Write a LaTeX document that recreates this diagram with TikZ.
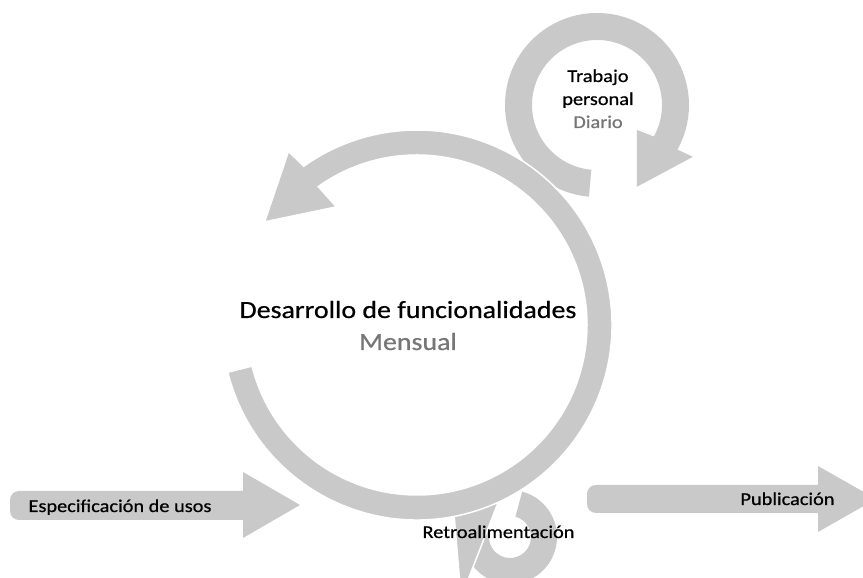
\documentclass[tikz,border=0pt]{standalone}
\usepackage{fontspec}
\setmainfont{Carlito}[FakeStretch=1.13,FakeBold=0.6]
\usetikzlibrary{calc}
\definecolor{shapegray}{RGB}{201,201,201}
\definecolor{subgray}{RGB}{118,118,118}
\begin{document}
\begin{tikzpicture}[x=1pt,y=1pt,
  grayfill/.style={fill=shapegray},
  whiteedge/.style={draw=white, line width=1.5pt},
  bigtext/.style={font=\fontsize{24.7}{28}\selectfont, inner sep=0pt, anchor=base},
  smalltext/.style={font=\fontsize{18}{23}\selectfont, inner sep=0pt, anchor=base},
  subtext/.style={text=subgray}]
\useasboundingbox (0,0) rectangle (863,578);
\coordinate (C) at (417,253);
\coordinate (T) at (597,473);
\coordinate (B) at (510,41);
% top small loop (daily)
\fill[grayfill] ($(T)+(265:92)$) arc[start angle=265,end angle=-29,radius=92]
  -- ($(T)+(-28.4:109)$) -- ($(T)+(-64:91)$) -- ($(T)+(-32:47)$)
  -- ($(T)+(-29:65)$) arc[start angle=-29,end angle=265,radius=65] -- cycle;
% bottom small loop (feedback)
\fill[grayfill] ($(B)+(75:47)$) arc[start angle=75,end angle=-195,radius=47]
  -- ($(B)+(165:21)$) arc[start angle=-195,end angle=75,radius=21] -- cycle;
\fill[grayfill, whiteedge] (452,88) -- (503,88) -- (461,-20) -- cycle;
% big cycle (monthly)
\fill[grayfill, whiteedge] ($(C)+(-166:195)$) arc[start angle=-166,end angle=125.5,radius=195]
  -- ($(C)+(126.5:216)$) -- ($(C)+(145.9:184)$) -- ($(C)+(124.3:143)$)
  -- ($(C)+(125.5:170)$) arc[start angle=125.5,end angle=-166,radius=170] -- cycle;
% input arrow
\fill[grayfill, rounded corners=9pt] (10,58) rectangle (262,87);
\fill[grayfill] (243,106) -- (300,73) -- (243,40) -- cycle;
% output arrow
\fill[grayfill, rounded corners=9pt] (587,65) rectangle (836,93);
\fill[grayfill] (818,112) -- (876,79) -- (818,46) -- cycle;
% texts
\node[bigtext] (dev) at (408,260) {Desarrollo de funcionalidades};
\node[bigtext, subtext] (mens) at (408,228) {Mensual};
\node[smalltext] (trab) at (598,496) {Trabajo};
\node[smalltext] (pers) at (598,473) {personal};
\node[smalltext, subtext] (diar) at (598,450) {Diario};
\node[smalltext] (esp) at (120,66) {Especificación de usos};
\node[smalltext] (pub) at (787.5,73) {Publicación};
\node[smalltext] (retro) at (498.5,40) {Retroalimentación};
\end{tikzpicture}
\end{document}
